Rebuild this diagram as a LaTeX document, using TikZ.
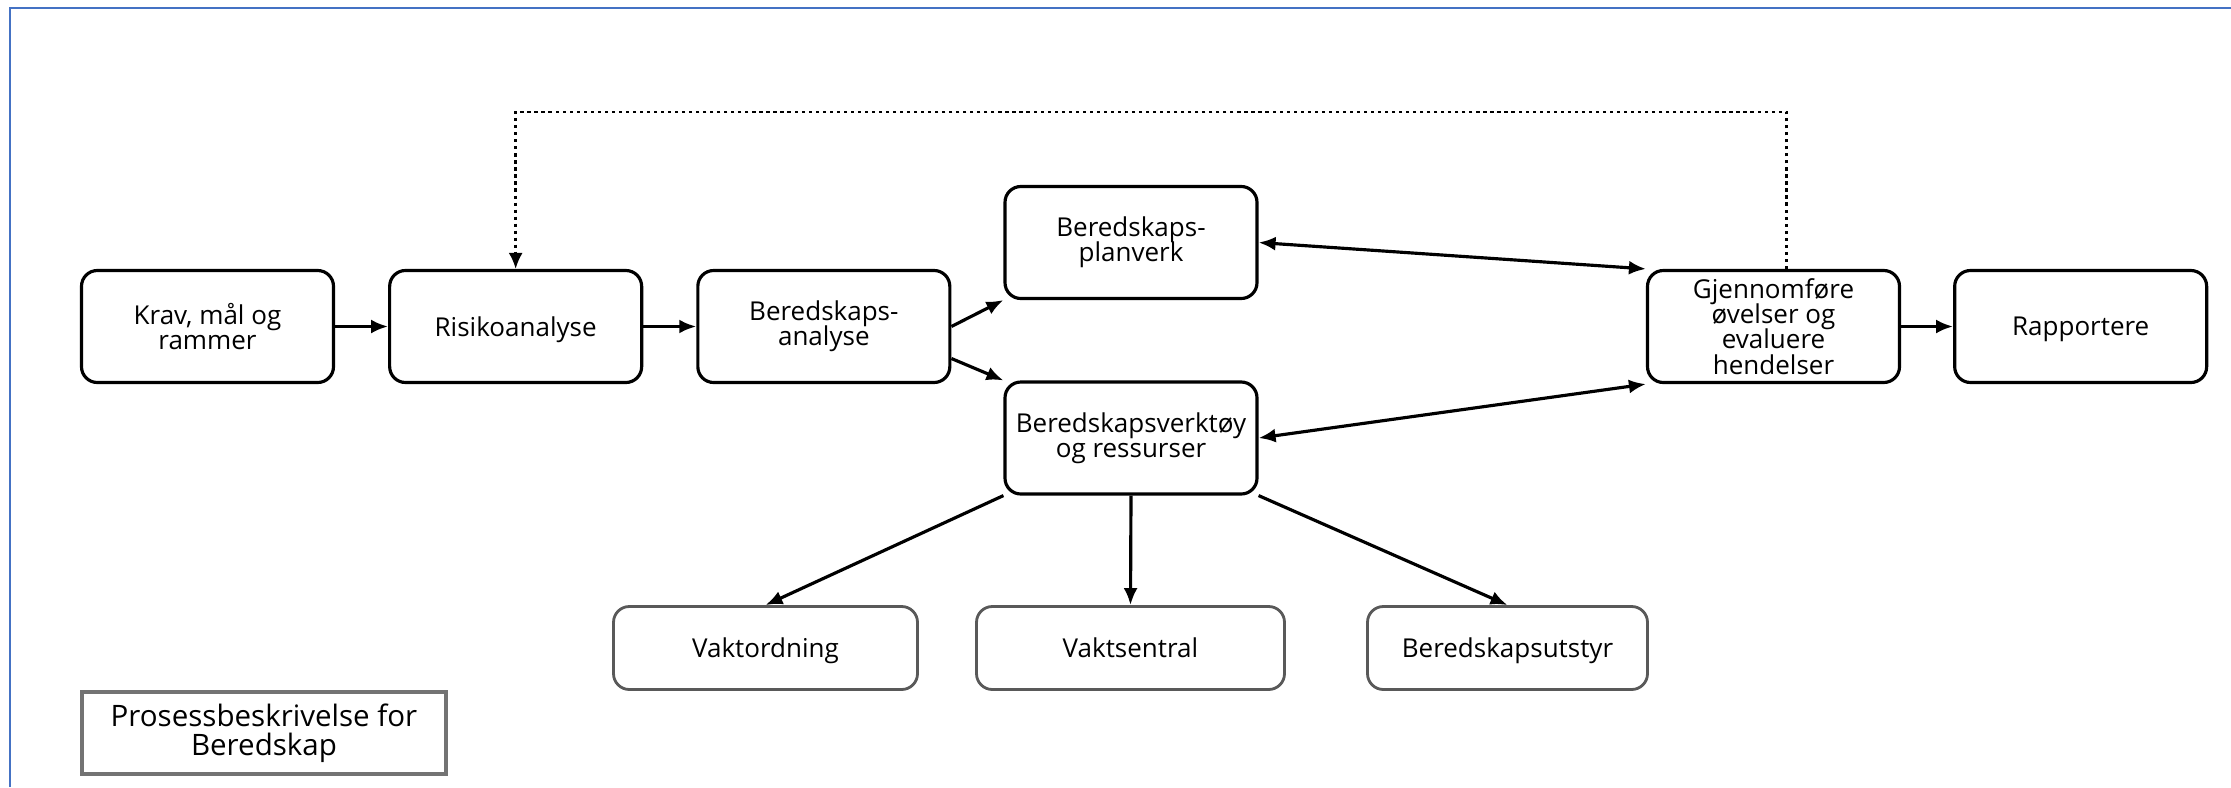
\documentclass[tikz,border=0pt]{standalone}
\usepackage{fontspec}
\setmainfont{Open Sans}
\usepackage{tikz}
\usetikzlibrary{shapes,arrows,arrows.meta,positioning}
\definecolor{rammeblaa}{HTML}{4472C4}
\setlength{\lineskiplimit}{-5pt}
\tikzstyle{prosess} = [draw=black, line width=0.9pt, rectangle, rounded corners=4.5pt, minimum width=2.52cm, minimum height=1.12cm, align=center, inner sep=1pt, font=\fontsize{7.4}{7.2}\selectfont]
\tikzstyle{enlinje} = [text depth=0pt]
\tikzstyle{tiltak} = [draw=black!65, line width=0.8pt, rectangle, rounded corners=4.5pt, minimum height=0.83cm, align=center, text depth=0pt, font=\fontsize{7.4}{7.2}\selectfont]
\tikzstyle{tittel} = [draw=black!55, line width=1.3pt, rectangle, minimum width=3.64cm, minimum height=0.82cm, align=center, inner sep=1pt, font=\fontsize{8.4}{8.2}\selectfont]
\tikzstyle{pil} = [-{Latex[length=1.7mm,width=1.4mm]}, line width=0.9pt]
\tikzstyle{dobbelpil} = [{Latex[length=1.7mm,width=1.4mm]}-{Latex[length=1.7mm,width=1.4mm]}, line width=0.9pt]
\tikzstyle{tilbake} = [-{Latex[length=1.6mm,width=1.4mm]}, line width=0.7pt, dash pattern=on 0.9pt off 1.1pt]

\begin{document}
\begin{tikzpicture}
  \useasboundingbox (0,0) rectangle (22.31,7.87);
  \draw[rammeblaa, line width=0.6pt] (0.10,0) -- (0.10,7.79) -- (22.31,7.79);

  % hovedprosessen
  \node [prosess] (krav) at (2.075,4.605) {Krav, mål og\\rammer};
  \node [prosess, enlinje, right=0.53cm of krav] (risiko) {Risikoanalyse};
  \node [prosess, right=0.53cm of risiko] (banalyse) {Beredskaps-\\analyse};
  \node [prosess] (planverk) at (11.31,5.445) {Beredskaps-\\planverk};
  \node [prosess] (verktoy) at (11.31,3.49) {Beredskapsverktøy\\og ressurser};
  \node [prosess] (gjennom) at (17.735,4.605) {Gjennomføre\\øvelser og\\evaluere\\hendelser};
  \node [prosess, enlinje, right=0.52cm of gjennom] (rapport) {Rapportere};

  % verktøy og ressurser
  \node [tiltak, minimum width=3.04cm] (vaktord) at (7.655,1.39) {Vaktordning};
  \node [tiltak, minimum width=3.08cm] (vaktsen) at (11.305,1.39) {Vaktsentral};
  \node [tiltak, minimum width=2.80cm] (utstyr) at (15.075,1.39) {Beredskapsutstyr};

  \node [tittel] (tittel) at (2.64,0.54) {Prosessbeskrivelse for\\Beredskap};

  \draw [pil] (krav) -- (risiko);
  \draw [pil] (risiko) -- (banalyse);
  \draw [pil] (banalyse.east) -- (planverk.south west);
  \draw [pil] ([yshift=-3.2mm]banalyse.east) -- (verktoy.north west);
  \draw [dobbelpil] (planverk.east) -- (gjennom.north west);
  \draw [dobbelpil] (verktoy.east) -- (gjennom.south west);
  \draw [pil] (gjennom) -- (rapport);
  \draw [pil] (verktoy.south west) -- (vaktord.north);
  \draw [pil] (verktoy.south) -- (vaktsen.north);
  \draw [pil] (verktoy.south east) -- (utstyr.north);

  \coordinate (topp) at (0,6.75);
  \draw [tilbake] ([xshift=1.3mm]gjennom.north) |- (risiko.north |- topp) -- (risiko.north);
\end{tikzpicture}
\end{document}
